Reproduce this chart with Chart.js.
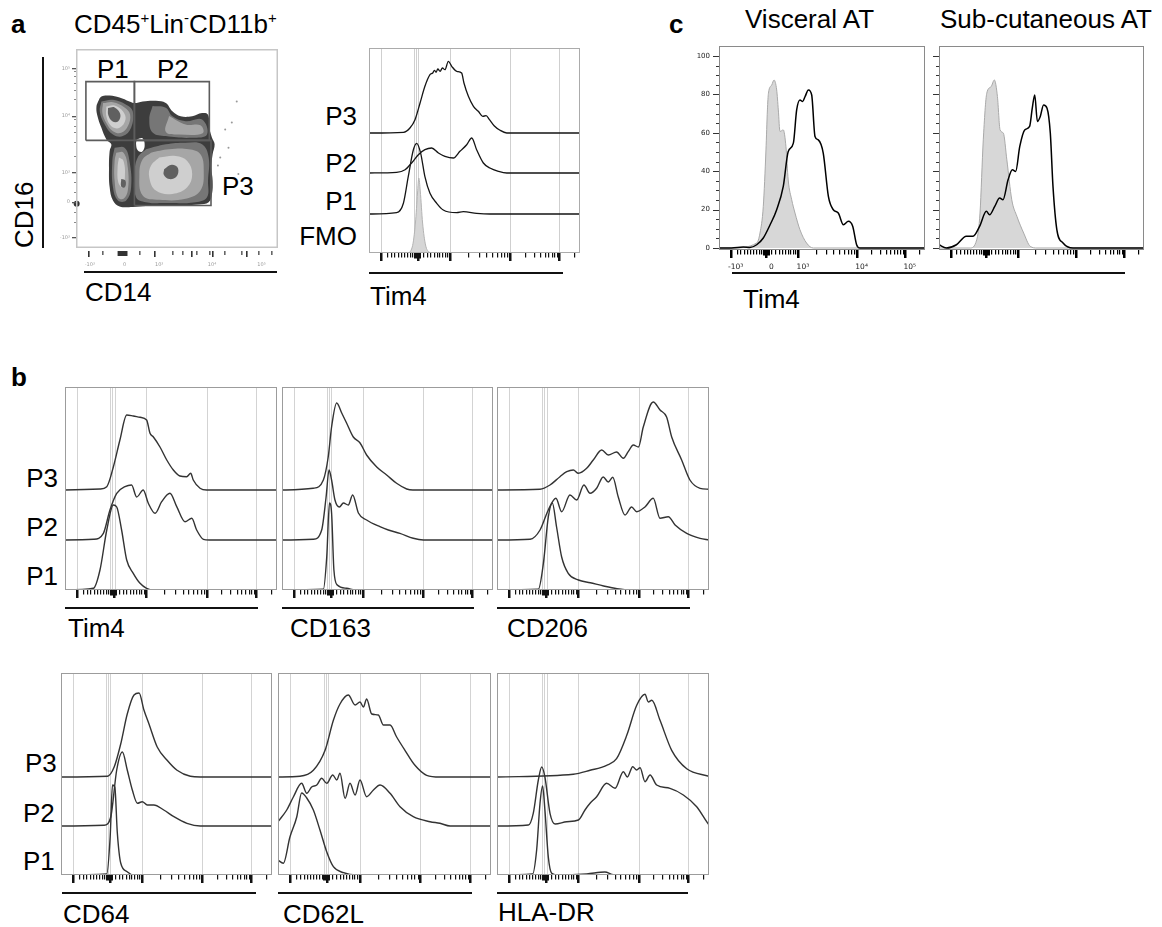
<!DOCTYPE html>
<html><head><meta charset="utf-8">
<script src="https://cdn.jsdelivr.net/npm/chart.js@4.4.1/dist/chart.umd.min.js"></script>
<style>
html,body{margin:0;padding:0;background:#fff}
body{width:1162px;height:927px;position:relative;overflow:hidden;font-family:"Liberation Sans",Arial,Helvetica,sans-serif;color:#000}
.t{position:absolute;white-space:nowrap;line-height:1;font-size:26px}
.b{font-weight:bold}
.r{text-align:right}
.sup{font-size:15px;position:relative;top:-10px}
.ul{position:absolute;height:1.6px;background:#111}
.vl{position:absolute;width:1.6px;background:#111}
canvas{position:absolute}
</style></head><body>

<!-- panel a -->
<div class="t b" style="left:11px;top:11px">a</div>
<div class="t" style="left:74px;top:11px">CD45<span class="sup">+</span>Lin<span class="sup">-</span>CD11b<span class="sup">+</span></div>
<div class="t" style="left:97px;top:56px">P1</div>
<div class="t" style="left:157px;top:56px">P2</div>
<div class="t" style="left:222px;top:173px">P3</div>
<div class="t" style="left:11px;top:248px;transform-origin:0 0;transform:rotate(-90deg)">CD16</div>
<div class="t" style="left:85px;top:279px">CD14</div>
<div class="vl" style="left:42px;top:57px;height:191px"></div>
<div class="ul" style="left:84px;top:271px;width:193px"></div>

<div class="t r" style="right:805px;top:103px">P3</div>
<div class="t r" style="right:805px;top:150px">P2</div>
<div class="t r" style="right:805px;top:188px">P1</div>
<div class="t r" style="right:805px;top:223px">FMO</div>
<div class="t" style="left:370px;top:283px">Tim4</div>
<div class="ul" style="left:369px;top:272px;width:194px"></div>

<!-- panel c -->
<div class="t b" style="left:669px;top:11px">c</div>
<div class="t" style="left:745px;top:6px">Visceral AT</div>
<div class="t" style="left:940px;top:6px">Sub-cutaneous AT</div>
<div class="t" style="left:743px;top:286px">Tim4</div>
<div class="ul" style="left:732px;top:272px;width:393px"></div>

<!-- panel b -->
<div class="t b" style="left:11px;top:364px">b</div>
<div class="t r" style="right:1104px;top:465px">P3</div>
<div class="t r" style="right:1104px;top:514px">P2</div>
<div class="t r" style="right:1104px;top:563px">P1</div>
<div class="t" style="left:68px;top:615px">Tim4</div>
<div class="t" style="left:290px;top:615px">CD163</div>
<div class="t" style="left:507px;top:615px">CD206</div>
<div class="ul" style="left:65px;top:607px;width:193px"></div>
<div class="ul" style="left:282px;top:607px;width:192px"></div>
<div class="ul" style="left:497px;top:607px;width:193px"></div>

<div class="t" style="left:25px;top:750px">P3</div>
<div class="t" style="left:23px;top:800px">P2</div>
<div class="t" style="left:23px;top:848px">P1</div>
<div class="t" style="left:63px;top:901px">CD64</div>
<div class="t" style="left:283px;top:901px">CD62L</div>
<div class="t" style="left:498px;top:899px">HLA-DR</div>
<div class="ul" style="left:62px;top:892px;width:194px"></div>
<div class="ul" style="left:278px;top:892px;width:194px"></div>
<div class="ul" style="left:497px;top:892px;width:191px"></div>

<script>
// ---------- axis structure (logicle, % of plot width) ----------
const GRID = [5.7, 21.4, 22.4, 23.4, 38.3, 66.8, 90.2];
const MAJOR = [5.7, 23, 38.3, 66.8, 90.2];
const MINOR = [8.5, 10.3, 12, 13.6, 15.1, 16.6, 18, 19.3, 20.5, 25.4, 27.3, 29, 30.6, 32, 33.4, 34.7, 35.9, 37.1,
  46.9, 51.9, 55.5, 58.2, 60.5, 62.4, 64, 65.5, 73.8, 78, 80.9, 83.2, 85, 86.6, 87.9, 89.1, 97.3];
const ZERO_BLOCK = [21.3, 24.6];
const LOG_LABELS = ['-10\u00B3', '0', '10\u00B3', '10\u2074', '10\u2075'];

// ---------- panel a: contour plot (channel units) ----------
const CT_OUTER = [[67,444],[77,459],[102,462],[132,456],[162,444],[177,439],[202,444],[242,446],[272,439],[292,414],[317,399],[352,399],[382,409],[400,404],[404,364],[412,334],[420,314],[414,284],[410,244],[414,204],[412,164],[402,139],[372,132],[292,129],[212,127],[172,124],[132,126],[112,144],[102,184],[100,244],[102,294],[107,314],[92,329],[77,364],[64,404],[62,429]];
const CT_L1 = [
  [[77,444],[112,449],[152,434],[172,414],[167,364],[142,339],[112,344],[87,374],[72,414]],
  [[212,299],[272,314],[332,319],[382,314],[402,274],[400,204],[397,154],[362,139],[272,136],[212,139],[182,154],[177,224],[187,274]],
  [[117,304],[147,304],[162,264],[167,184],[152,144],[127,144],[112,184],[110,264]],
  [[232,430],[272,425],[292,399],[332,384],[382,389],[397,344],[352,334],[272,339],[232,350],[222,390]]
];
const CT_L2 = [
  [[82,439],[112,442],[147,426],[164,404],[157,369],[137,349],[112,354],[92,379],[80,409]],
  [[227,289],[282,299],[342,299],[377,284],[387,234],[377,174],[332,149],[252,146],[202,159],[192,224],[202,269]],
  [[122,289],[144,289],[157,244],[157,174],[144,149],[127,154],[117,204],[117,264]],
  [[282,400],[332,374],[377,372],[384,348],[312,344],[272,352]]
];
const CT_L3 = [
  [[92,429],[117,432],[142,414],[150,389],[132,364],[107,369],[92,399]],
  [[252,274],[302,279],[337,264],[352,224],[337,184],[292,164],[242,174],[222,214],[227,249]],
  [[130,274],[144,264],[148,214],[140,184],[128,199],[126,244]]
];
const CT_L4 = [
  [[97,424],[117,426],[134,406],[128,384],[110,384],[98,402]],
  [[267,239],[290,252],[309,242],[304,216],[282,209],[266,222]],
  [[137,209],[150,204],[148,184],[137,186]]
];
const CT_HOLE = [[184,329],[202,332],[208,309],[200,292],[187,296],[182,314]];
const GATE_P1 = [[30,326],[177,326],[177,504],[30,504]];
const GATE_P2 = [[177,326],[404,326],[404,504],[177,504]];
const GATE_P3 = [[177,129],[409,129],[409,326],[177,326]];
const CT_OUTLIERS = [[487,444],[452,359],[462,304],[437,274],[492,224],[472,380],[430,250]];
const CT_EDGE = [[2,134]];
const CT_Y_TICKS = [32,139,229,401,544];
const CT_Y_LABELS = ['-10\u00B3','0','10\u00B3','10\u2074','10\u2075'];
const CT_Y_MINOR = [80,110,170,200,280,320,350,370,390,450,480,500,520,535];
const CT_X_TICKS = [36,78,192,237,291,321,348,363,402,411,447,501,516,552,591];
const CT_X_ZERO = [126,156];
const CT_X_LABELPOS = [42,147,252,412,562];

// ---------- panel a: Tim4 histogram overlay (height units) ----------
const A_FMO = [[0,0],[18,0],[20.5,6],[22,30],[23,60],[23.6,75],[24.3,62],[25.4,30],[26.8,8],[28.5,1],[30,0],[100,0]];
const A_P1 = [[0,0],[13.1,1.3],[16.3,10.7],[18.6,37.3],[21,64],[22.6,70.7],[24.5,60.7],[26.5,37.3],[28.9,20.7],[32.1,10.7],[35.2,4],[41.5,1.3],[44.7,2.3],[51,0.7],[57.3,0],[100,0]];
const A_P2 = [[0,0],[13.1,0.7],[17.1,3.3],[20.2,10],[23.4,18.3],[26.5,23.3],[29.7,25],[32.9,20],[36,16.7],[40,15],[43.1,21.7],[46.3,28.3],[48.7,35],[51,23.3],[54.2,10],[57.3,5],[61.3,1.7],[65.3,0],[100,0]];
const A_P3 = [[0,0],[16.3,0.7],[19.4,5],[21.8,13.3],[24.2,30],[26.5,46.7],[28.9,58.3],[30.2,60],[31,62.7],[31.8,60.7],[32.6,64],[33.7,61.7],[34.8,65],[36,63.3],[37.6,71.7],[39.2,66.7],[41.6,61.7],[43.9,60],[45,50],[47.1,36.7],[49.5,26.7],[51.8,21.7],[53.9,16.7],[55.5,17.3],[57.1,13.3],[59.3,7.3],[62.1,2.7],[65.3,0],[100,0]];
const A_BASE = {FMO:0, P1:39, P2:80, P3:120};

// ---------- panel c: % of max ----------
const C_VIS_FMO = [[0,0],[6.1,0],[18.3,2.6],[19.9,7.8],[21.5,21.7],[22.8,51.1],[23.5,71.9],[24,80.6],[25.6,84.9],[26.7,87.5],[28,82.3],[28.8,71.9],[29.6,60.7],[31.2,61.5],[32.5,52.8],[33.6,35.4],[35.3,25.1],[36.9,18.2],[39.3,9.5],[42.5,2.6],[45.8,0],[100,0]];
const C_VIS_TIM4 = [[0,0],[6.1,0],[11.8,0.5],[15,0.3],[18.3,1.7],[21.5,5.2],[24.8,12.1],[28,19.9],[31.2,32.1],[33.6,50.3],[36.1,54.6],[37.7,71.9],[39.3,77.1],[40.6,76.3],[41.8,78.9],[43.4,82.3],[45,79.7],[46.6,58.1],[48.2,56.3],[50.6,49.4],[53.1,26.9],[55.5,19.9],[57.9,18.2],[60.4,12.1],[62.8,13.9],[64.9,11.3],[66.8,1.7],[68.4,0],[100,0]];
const C_SUB_FMO = [[0,0],[15.1,0],[18.4,4.3],[20,18.2],[21.6,56.3],[23.3,80.6],[25.4,84],[27,87.5],[28.5,78.9],[29.8,61.5],[31.4,59.8],[33.1,45.9],[35.5,25.1],[38,16.5],[41.3,7.8],[44.5,0.9],[47.8,0],[100,0]];
const C_SUB_TIM4 = [[0,1.7],[3.6,0],[8.5,1.7],[13.3,6.1],[16.6,6.1],[19.8,11.3],[23.1,19.1],[24.7,17.3],[27.2,21.7],[29.6,26],[31.2,25.1],[33.7,35.5],[35.8,40.7],[37.4,39.9],[39.4,52.9],[41.8,61.5],[44.2,63.3],[45.5,72.8],[46.7,79.7],[48,65.9],[49.4,68.5],[51,74.5],[52.7,72.8],[54.3,59.8],[55.6,32.1],[57.5,9.5],[60.5,2.6],[65.4,0],[100,0]];
const C_Y_MAJOR = [0,20,40,60,80,100];

// ---------- panel b (height units above each baseline) ----------
const B_TIM4_P3 = [[0,0],[16.5,1],[19.7,3.3],[22.8,23],[25.9,50],[29.1,75],[32.2,74],[35.4,72.7],[38.5,70],[40.1,56.7],[41.7,53],[44.8,43],[48,30],[51.1,20],[54.2,14],[57.4,13.3],[59.3,16.7],[60.5,10],[63.7,1.7],[66.8,0],[100,0]];
const B_TIM4_P2 = [[0,0],[13.4,0.7],[18.1,6.7],[21.2,30],[24.4,46.7],[28.3,53.3],[31.4,55],[33.8,43],[36.9,50],[39.3,36.7],[42.5,26.7],[45.6,38.3],[49.5,46.7],[52.7,33.3],[56.6,18.3],[59.8,21.7],[62.1,10],[65.3,0.7],[68,0],[100,0]];
const B_TIM4_P1 = [[0,0],[13.4,1.7],[16.5,20],[19.7,60],[22.8,85],[24.4,83],[26.7,60],[29.1,30],[32.2,16.7],[35.4,6.7],[38.5,1.7],[41.7,0],[100,0]];
const B_CD163_P3 = [[0,0],[14.8,1.7],[19.6,10],[21.9,33],[23.5,63],[25.9,87],[28.3,77],[30.6,67],[33.8,53],[37,47],[40.1,35],[44.9,23],[49.6,15],[54.3,6.7],[59.1,1],[62,0],[100,0]];
const B_CD163_P2 = [[0,0],[14.8,0.7],[18.8,10],[20.9,43],[22.3,70],[23.5,60],[25.1,40],[27.2,33],[29.1,37],[31.4,35],[33.5,45],[36.2,27],[40.1,20],[46.4,13.3],[50.4,10],[55.9,6.7],[62.2,1.7],[67,0],[100,0]];
const B_CD163_P1 = [[0,0],[19.6,0.7],[21.2,33],[22.5,87],[23.5,77],[24.6,20],[26.2,5],[30.6,1.7],[35.4,0],[100,0]];
const B_CD206_P3 = [[0,0],[20.3,0.7],[25,5],[29.7,13.3],[32.9,18.3],[36,20],[38.4,16.7],[42.3,21.7],[45.4,30],[49.4,40],[52.5,35],[56.4,38],[59.6,31.7],[61.9,38.3],[64.3,45],[66.7,43],[69,63],[73.7,88],[76.9,80],[80,73],[82.4,53],[87.1,30],[91,10],[95.8,1.7],[100,0.7]];
const B_CD206_P2 = [[0,0],[15.6,0.7],[20.3,10],[24.2,30],[27.8,41.7],[30.5,28.3],[34.4,45],[37.6,40],[41,55],[43.9,46.7],[47,51.7],[50.1,63],[52.5,58],[54.6,62.7],[57.2,43],[60.4,25],[63.5,33],[65.9,28.3],[69.8,33],[73.7,41.7],[76.9,21.7],[80.8,23.3],[84,15],[89.5,6.7],[95.8,1.7],[100,0]];
const B_CD206_P1 = [[0,0],[19.5,0.7],[21.9,27],[24.2,73],[26.1,87],[28.1,63],[30.5,33],[33.6,16.7],[38.4,10],[44,7.3],[50.3,4],[56.6,1.3],[62.9,0],[100,0]];
const B_CD64_P3 = [[0,0],[22,0.7],[25.2,10],[28.3,33],[31.4,63],[34.6,82],[37,84],[39.3,67],[41.7,53],[45.6,30],[50.3,16.7],[55,6.7],[61.3,0.7],[66,0],[100,0]];
const B_CD64_P2 = [[0,0],[20.4,0.7],[23.6,9.3],[26.4,56],[29.1,74],[31.4,56],[33.8,36],[36.2,22.7],[38.5,24.3],[40.9,21],[44,21],[48.7,16],[53.5,9.3],[59.7,2.7],[66,0],[100,0]];
const B_CD64_P1 = [[0,0],[21.7,1],[23.3,38],[24.4,90],[25.5,88],[26.7,42],[28.3,12],[31.4,3.3],[33.8,0],[100,0]];
const B_CD62L_P3 = [[0,0],[10.3,0.7],[16.6,6.7],[22.1,26.7],[26,56.7],[29.1,73],[33,82],[36.2,72],[38.5,75],[40.1,70],[41.6,78],[44,63],[47.1,62],[49.5,52],[52.6,52],[55.7,40],[59.6,26.7],[64.3,11.7],[69.8,1.7],[76,0],[100,0]];
const B_CD62L_P2 = [[0,4.3],[4.1,16],[7.2,29],[11.1,42.7],[13.5,32.7],[15.8,39],[18.2,41],[20.5,47.7],[22.9,42.7],[25.7,51],[27.6,46],[29.1,52.7],[31.5,27.7],[33.8,42.7],[36.2,31],[38.5,46],[41.6,29.3],[44.8,36],[47.9,41],[52.6,32.7],[57.3,19.3],[63.5,9.3],[71.4,4.3],[76,2.7],[80.8,0],[100,0]];
const B_CD62L_P1 = [[0,15],[2.5,11.7],[5.6,38],[8.8,58],[11.1,82],[13.5,77],[16.6,65],[19.7,45],[22.9,23],[26,8.3],[30.8,2.3],[36.9,0],[100,0]];
const B_HLA_P3 = [[0,0],[36,2.7],[43.9,6.7],[51.7,11.7],[56.4,18.3],[61.2,41.7],[65.9,71.7],[69.8,82.7],[71.4,75],[73,76.7],[76.9,56.7],[82.4,26.7],[89.5,8.3],[100,0.7]];
const B_HLA_P2 = [[0,0],[14.8,1],[17.1,12.7],[19.5,46],[21.1,59],[22.6,49],[25,12.7],[27.4,2],[32.9,4.3],[38.4,6],[41.5,16],[43.9,22.7],[47,29.3],[51.7,42.7],[55.7,37.7],[59.6,54.3],[61.5,49],[64,59.3],[65.9,56],[67.5,58.3],[69.8,44.3],[72.2,51],[75.3,41],[81.6,37.7],[87.9,31],[94.2,19.3],[98.9,4.3],[100,1]];
const B_HLA_P1 = [[0,0],[16.8,1],[18.7,25],[20.3,72],[21.5,89],[22.6,65],[24.2,18],[25.8,1.7],[28.2,0],[42.3,1],[50.9,3],[54.9,0.3],[60,0],[100,0]];
const B_BASE_TOP = {P1:0, P2:50, P3:100};
const B_BASE_BOT = {P1:0, P2:49, P3:98};

// ---------- helpers ----------
function mkCanvas(left, top, w, h){
  const c = document.createElement('canvas');
  c.width = w; c.height = h;
  c.style.left = left + 'px'; c.style.top = top + 'px';
  c.style.width = w + 'px'; c.style.height = h + 'px';
  document.body.appendChild(c);
  return c;
}
function baseOptions(pad, xmin, xmax, ymin, ymax){
  return {
    responsive:false, animation:false, devicePixelRatio:1, events:[],
    layout:{padding:pad},
    plugins:{legend:{display:false}, tooltip:{enabled:false}},
    scales:{x:{type:'linear',display:false,min:xmin,max:xmax}, y:{type:'linear',display:false,min:ymin,max:ymax}}
  };
}
function logTicks(ctx, x, a, color){
  ctx.fillStyle = color;
  MINOR.forEach(v => { const px = Math.round(x.getPixelForValue(v)); ctx.fillRect(px, a.bottom, 1.2, 4.5); });
  const z0 = x.getPixelForValue(ZERO_BLOCK[0]), z1 = x.getPixelForValue(ZERO_BLOCK[1]);
  ctx.fillRect(Math.round(z0), a.bottom, Math.round(z1 - z0), 5.5);
  MAJOR.forEach(v => { const px = Math.round(x.getPixelForValue(v)); ctx.fillRect(px - 1, a.bottom, 2.5, 8); });
}
function histDeco(o){
  return {
    id:'histDeco',
    beforeDatasetsDraw(chart){
      const {ctx, chartArea:a, scales:{x}} = chart;
      ctx.save();
      if (o.grid){
        ctx.strokeStyle = o.gridColor; ctx.lineWidth = 1;
        o.grid.forEach(v => {
          const px = Math.round(x.getPixelForValue(v)) + 0.5;
          ctx.beginPath(); ctx.moveTo(px, a.top); ctx.lineTo(px, a.bottom); ctx.stroke();
        });
      }
      ctx.restore();
    },
    afterDatasetsDraw(chart){
      const {ctx, chartArea:a, scales:{x, y}} = chart;
      ctx.save();
      ctx.strokeStyle = o.frameColor; ctx.lineWidth = 1;
      ctx.strokeRect(a.left + 0.5, a.top + 0.5, a.right - a.left - 1, a.bottom - a.top - 1);
      logTicks(ctx, x, a, o.tickColor || '#111');
      if (o.yTicks){
        ctx.strokeStyle = '#333'; ctx.lineWidth = 1;
        for (let v = 0; v <= 100; v += 5){
          const py = Math.round(y.getPixelForValue(v)) + 0.5;
          const len = (v % 20 === 0) ? 6 : 3;
          ctx.beginPath(); ctx.moveTo(a.left - len, py); ctx.lineTo(a.left, py); ctx.stroke();
        }
        if (o.yLabels){
          ctx.fillStyle = '#222'; ctx.font = '7px "DejaVu Sans", sans-serif';
          ctx.textAlign = 'right'; ctx.textBaseline = 'middle';
          C_Y_MAJOR.forEach(v => ctx.fillText(String(v), a.left - 9, y.getPixelForValue(v)));
        }
      }
      if (o.xLabels){
        ctx.fillStyle = '#222'; ctx.font = '7.5px "DejaVu Sans", sans-serif';
        ctx.textAlign = 'center'; ctx.textBaseline = 'alphabetic';
        MAJOR.forEach((v, i) => ctx.fillText(LOG_LABELS[i], x.getPixelForValue(v) + 5, a.bottom + 19));
      }
      ctx.restore();
    }
  };
}
function hist(frame, ymin, ymax, curves, deco){
  const pad = {left: deco.padL || 2, right: 2, top: 2, bottom: deco.padB || 12};
  const c = mkCanvas(frame.left - pad.left, frame.top - pad.top, frame.w + pad.left + pad.right, frame.h + pad.top + pad.bottom);
  const datasets = curves.map(cv => ({
    data: cv.pts.map(p => ({x: p[0], y: cv.base + p[1]})),
    showLine: true, pointRadius: 0, borderColor: cv.color, borderWidth: cv.width,
    cubicInterpolationMode: 'monotone', borderJoinStyle: 'round',
    fill: cv.fill ? {value: cv.base} : false,
    backgroundColor: cv.fillColor || 'rgba(0,0,0,0)', order: cv.order || 0
  }));
  new Chart(c, {type:'scatter', data:{datasets}, options: baseOptions(pad, 0, 100, ymin, ymax), plugins:[histDeco(deco)]});
}

// ---------- panel a: contour ----------
(function(){
  const frame = {left:76, top:47, w:204, h:201};
  const pad = {left:32, right:2, top:2, bottom:22};
  const c = mkCanvas(frame.left - pad.left, frame.top - pad.top, frame.w + pad.left + pad.right, frame.h + pad.top + pad.bottom);
  const poly = (pts, color, order) => ({
    data: pts.concat([pts[0]]).map(p => ({x:p[0], y:p[1]})),
    showLine:true, pointRadius:0, borderWidth:0, borderColor:color, backgroundColor:color,
    fill:'shape', tension:0.4, order
  });
  const gate = (pts) => ({
    data: pts.concat([pts[0]]).map(p => ({x:p[0], y:p[1]})),
    showLine:true, pointRadius:0, borderWidth:1.6, borderColor:'#5c5c5c', fill:false, tension:0, order:2
  });
  const ds = [poly(CT_OUTER, '#3d3d3d', 10)];
  CT_L1.forEach(p => ds.push(poly(p, '#767676', 9)));
  CT_L2.forEach(p => ds.push(poly(p, '#a6a6a6', 8)));
  CT_L3.forEach(p => ds.push(poly(p, '#cfcfcf', 7)));
  CT_L4.forEach(p => ds.push(poly(p, '#606060', 6)));
  ds.push(poly(CT_HOLE, '#ffffff', 5));
  ds.push(gate(GATE_P1), gate(GATE_P2), gate(GATE_P3));
  ds.push({data: CT_OUTLIERS.map(p => ({x:p[0], y:p[1]})), pointRadius:1, pointBackgroundColor:'#999', pointBorderWidth:0, showLine:false, order:1});
  ds.push({data: CT_EDGE.map(p => ({x:p[0], y:p[1]})), pointRadius:3, pointBackgroundColor:'#333', pointBorderWidth:0, showLine:false, order:1, clip:false});
  const deco = {
    id:'ctDeco',
    beforeDatasetsDraw(chart){ chart.ctx.filter = 'blur(0.7px)'; },
    afterDatasetsDraw(chart){
      const {ctx, chartArea:a, scales:{x, y}} = chart;
      ctx.filter = 'none';
      ctx.save();
      ctx.strokeStyle = '#c6c6c6'; ctx.lineWidth = 1.5;
      ctx.strokeRect(a.left + 0.75, a.top + 0.75, a.right - a.left - 1.5, a.bottom - a.top - 1.5);
      ctx.fillStyle = '#8a8a8a';
      CT_Y_MINOR.forEach(v => ctx.fillRect(a.left - 2, Math.round(y.getPixelForValue(v)), 2, 1));
      ctx.fillStyle = '#555';
      CT_Y_TICKS.forEach(v => ctx.fillRect(a.left - 4, Math.round(y.getPixelForValue(v)), 4, 1.3));
      ctx.filter = 'blur(0.5px)';
      CT_X_TICKS.forEach((v, i) => {
        const px = Math.round(x.getPixelForValue(v));
        ctx.fillStyle = (i % 3 === 0) ? '#333' : '#666';
        ctx.fillRect(px, a.bottom + 3, 1.6, (i % 3 === 0) ? 6 : 4);
      });
      ctx.fillStyle = '#333';
      const z0 = x.getPixelForValue(CT_X_ZERO[0]), z1 = x.getPixelForValue(CT_X_ZERO[1]);
      ctx.fillRect(z0, a.bottom + 3, z1 - z0, 5);
      ctx.filter = 'none';
      ctx.fillStyle = '#9a9a9a'; ctx.font = '5px "DejaVu Sans", sans-serif';
      ctx.textAlign = 'right'; ctx.textBaseline = 'middle';
      CT_Y_TICKS.forEach((v, i) => ctx.fillText(CT_Y_LABELS[i], a.left - 6, y.getPixelForValue(v)));
      ctx.textAlign = 'center'; ctx.textBaseline = 'alphabetic';
      CT_X_LABELPOS.forEach((v, i) => ctx.fillText(CT_Y_LABELS[i], x.getPixelForValue(v), a.bottom + 18));
      ctx.restore();
    }
  };
  new Chart(c, {type:'scatter', data:{datasets:ds}, options: baseOptions(pad, 0, 612, 0, 603), plugins:[deco]});
})();

// ---------- panel a: histogram overlay ----------
const LINE_A = '#151515';
hist({left:369, top:48, w:211, h:205}, 0, 205, [
  {pts:A_FMO, base:A_BASE.FMO, color:'#b3b3b3', width:1, fill:true, fillColor:'#d6d6d6', order:5},
  {pts:A_P1, base:A_BASE.P1, color:LINE_A, width:1.3},
  {pts:A_P2, base:A_BASE.P2, color:LINE_A, width:1.3},
  {pts:A_P3, base:A_BASE.P3, color:LINE_A, width:1.3}
], {grid:GRID, gridColor:'#cfcfcf', frameColor:'#ababab', padB:12});

// ---------- panel c ----------
hist({left:719, top:46, w:206, h:204}, -1.04, 105.2, [
  {pts:C_VIS_FMO, base:0, color:'#a9a9a9', width:1, fill:true, fillColor:'#d7d7d7', order:5},
  {pts:C_VIS_TIM4, base:0, color:'#000', width:1.5}
], {frameColor:'#8a8a8a', padL:32, padB:26, yTicks:true, yLabels:true, xLabels:true, tickColor:'#000'});
hist({left:939, top:46, w:205, h:204}, -1.04, 105.2, [
  {pts:C_SUB_FMO, base:0, color:'#a9a9a9', width:1, fill:true, fillColor:'#d7d7d7', order:5},
  {pts:C_SUB_TIM4, base:0, color:'#000', width:1.5}
], {frameColor:'#8a8a8a', padL:10, padB:12, yTicks:true, tickColor:'#000'});

// ---------- panel b ----------
const LINE_B = '#333';
const bDeco = {grid:GRID, gridColor:'#d3d3d3', frameColor:'#9c9c9c', padB:12};
function bPanel(frame, base, p1, p2, p3){
  hist(frame, 0, frame.h, [
    {pts:p1, base:base.P1, color:LINE_B, width:1.4},
    {pts:p2, base:base.P2, color:LINE_B, width:1.4},
    {pts:p3, base:base.P3, color:LINE_B, width:1.4}
  ], bDeco);
}
bPanel({left:65, top:387, w:212, h:203}, B_BASE_TOP, B_TIM4_P1, B_TIM4_P2, B_TIM4_P3);
bPanel({left:282, top:387, w:211, h:203}, B_BASE_TOP, B_CD163_P1, B_CD163_P2, B_CD163_P3);
bPanel({left:497, top:387, w:212, h:203}, B_BASE_TOP, B_CD206_P1, B_CD206_P2, B_CD206_P3);
bPanel({left:61, top:673, w:211, h:202}, B_BASE_BOT, B_CD64_P1, B_CD64_P2, B_CD64_P3);
bPanel({left:278, top:673, w:213, h:202}, B_BASE_BOT, B_CD62L_P1, B_CD62L_P2, B_CD62L_P3);
bPanel({left:497, top:673, w:212, h:202}, B_BASE_BOT, B_HLA_P1, B_HLA_P2, B_HLA_P3);
</script>
</body></html>
